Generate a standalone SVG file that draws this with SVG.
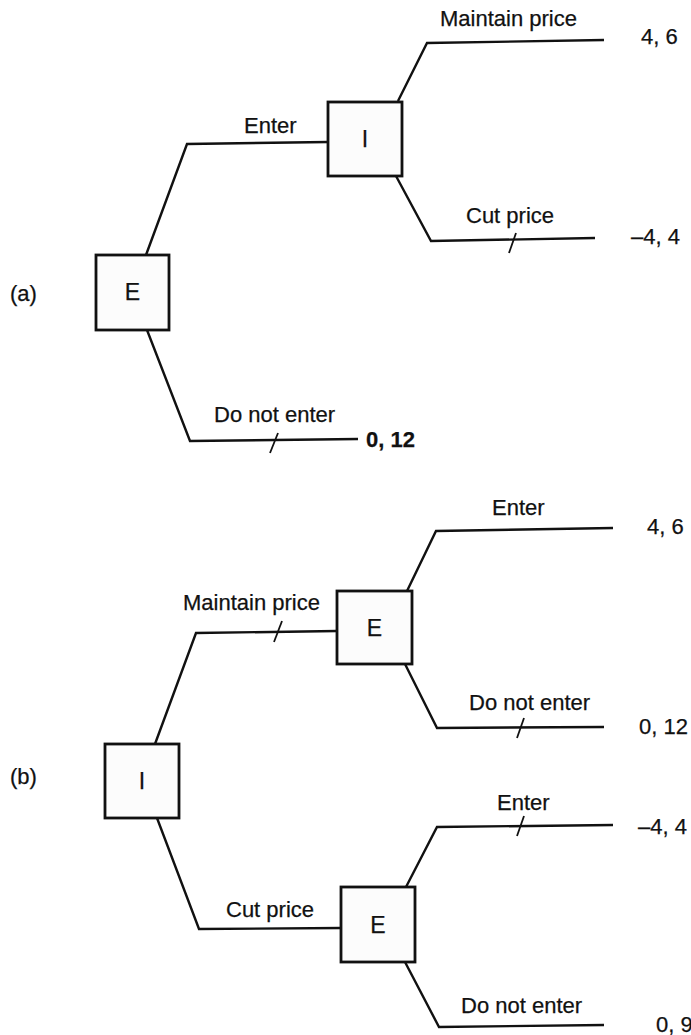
<svg xmlns="http://www.w3.org/2000/svg" width="691" height="1035" viewBox="0 0 691 1035">
<style>
text{font-family:"Liberation Sans",Arial,sans-serif;font-size:22px;fill:#111;stroke:#111;stroke-width:0.25}
.node rect{fill:#fcfcfc;stroke:#111;stroke-width:2.8}
.node text{font-size:23px;text-anchor:middle}
.edge{fill:none;stroke:#111;stroke-width:2.4;stroke-linejoin:miter}
.slash{stroke:#111;stroke-width:1.8}
</style>
<rect width="691" height="1035" fill="#ffffff"/>
<text x="10" y="301">(a)</text>
<text x="10" y="784">(b)</text>
<g id="connectors">
  <polyline class="edge" points="146,255 187,144 328,142"/>
  <polyline class="edge" points="147,330 190,441 358,439"/>
  <line class="slash" x1="270" y1="453" x2="278" y2="433"/>
  <polyline class="edge" points="398,101 427,43 604,40"/>
  <polyline class="edge" points="396,176 431,241 595,238"/>
  <line class="slash" x1="509" y1="253" x2="516" y2="233"/>
  <polyline class="edge" points="155,744 196,633 337,631"/>
  <line class="slash" x1="274" y1="642" x2="282" y2="621"/>
  <polyline class="edge" points="157,818 199,929 341,928"/>
  <polyline class="edge" points="407,591 436,531 613,528"/>
  <polyline class="edge" points="405,664 437,728 604,727"/>
  <line class="slash" x1="517" y1="738" x2="524" y2="718"/>
  <polyline class="edge" points="406,887 437,827 613,825"/>
  <line class="slash" x1="517" y1="836" x2="524" y2="816"/>
  <polyline class="edge" points="405,962 439,1027 604,1025"/>
</g>
<g id="labels">
  <text x="244" y="133">Enter</text>
  <text x="440" y="26">Maintain price</text>
  <text x="641" y="44">4, 6</text>
  <text x="466" y="223">Cut price</text>
  <text x="631" y="244">–4, 4</text>
  <text x="214" y="422">Do not enter</text>
  <text x="366" y="447" font-weight="bold">0, 12</text>
  <text x="492" y="515">Enter</text>
  <text x="647" y="534">4, 6</text>
  <text x="183" y="610">Maintain price</text>
  <text x="469" y="710">Do not enter</text>
  <text x="639" y="734">0, 12</text>
  <text x="497" y="810">Enter</text>
  <text x="638" y="834">–4, 4</text>
  <text x="226" y="917">Cut price</text>
  <text x="461" y="1013">Do not enter</text>
  <text x="656" y="1032">0, 9</text>
</g>
<g id="node-a-E" class="node"><rect x="96" y="255" width="73" height="75"/><text x="132.5" y="300">E</text></g>
<g id="node-a-I" class="node"><rect x="328" y="102" width="74" height="74"/><text x="365" y="147">I</text></g>
<g id="node-b-I" class="node"><rect x="105" y="744" width="74" height="74"/><text x="142" y="789">I</text></g>
<g id="node-b-E1" class="node"><rect x="337" y="591" width="75" height="73"/><text x="374.5" y="636">E</text></g>
<g id="node-b-E2" class="node"><rect x="341" y="887" width="74" height="75"/><text x="378" y="933">E</text></g>
</svg>
